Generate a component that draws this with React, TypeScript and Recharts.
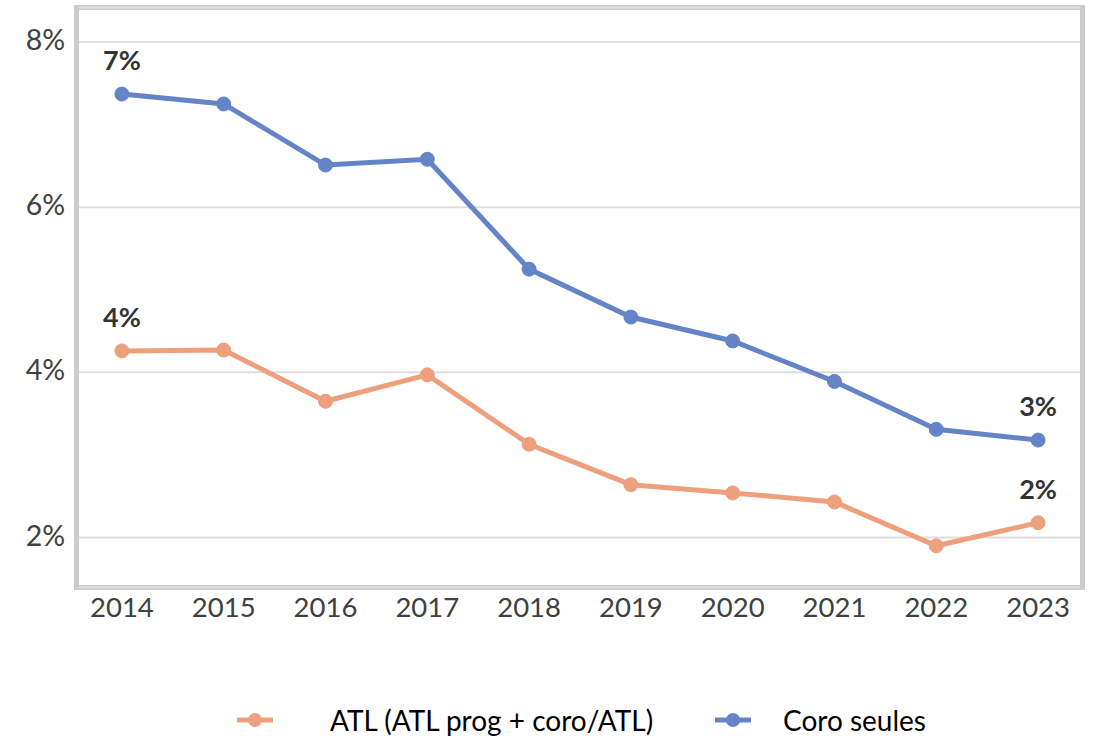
import React from 'react';
import { LineChart, Line, XAxis, YAxis, CartesianGrid, Legend } from 'recharts';

const years = ['2014', '2015', '2016', '2017', '2018', '2019', '2020', '2021', '2022', '2023'];
const atlValues = [4.26, 4.27, 3.65, 3.97, 3.13, 2.64, 2.54, 2.43, 1.9, 2.18];
const coroValues = [7.37, 7.25, 6.51, 6.58, 5.25, 4.67, 4.38, 3.89, 3.31, 3.18];
const yTicks = [2, 4, 6, 8];
const atlName = 'ATL (ATL prog + coro/ATL)';
const coroName = 'Coro seules';

const data = years.map((y, i) => ({ year: y, atl: atlValues[i], coro: coroValues[i] }));

const FONT = 'Lato, "Open Sans", sans-serif';
const ORANGE = '#EEA07C';
const BLUE = '#6584C8';

const makeLabel = (count: number) => (props: any) => {
  const { x, y, value, index } = props;
  if (index !== 0 && index !== count - 1) return null;
  return (
    <text
      x={x}
      y={y - 24}
      textAnchor="middle"
      fill="#333333"
      fontFamily={FONT}
      fontWeight={700}
      fontSize={27}
    >
      {`${Math.round(value)}%`}
    </text>
  );
};

const LegendContent = (props: any) => {
  const payload = props.payload || [];
  const lefts = [237, 715];
  return (
    <div style={{ position: 'relative', width: 1104, height: 36 }}>
      {payload.map((p: any, i: number) => (
        <div
          key={p.value}
          style={{
            position: 'absolute',
            left: lefts[i] ?? 237 + i * 478,
            top: 2,
            height: 36,
            display: 'flex',
            alignItems: 'center',
          }}
        >
          <svg width={36} height={20} style={{ display: 'block' }}>
            <line x1={0} y1={10} x2={36} y2={10} stroke={p.color} strokeWidth={5} />
            <circle cx={18} cy={10} r={7} fill={p.color} />
          </svg>
          <span
            style={{
              marginLeft: i === 0 ? 57 : 32,
              fontFamily: FONT,
              fontSize: 28,
              color: '#000000',
              whiteSpace: 'nowrap',
            }}
          >
            {p.value}
          </span>
        </div>
      ))}
    </div>
  );
};

export default function App() {
  return (
    <div style={{ position: 'relative', width: 1104, height: 736, background: '#ffffff' }}>
      <style>{`body{margin:0;background:#fff}`}</style>
      <div
        style={{
          position: 'absolute',
          left: 74,
          top: 5,
          width: 1011,
          height: 585,
          border: '5px solid #cccccc',
          boxSizing: 'border-box',
        }}
      />
      <LineChart
        width={1104}
        height={736}
        data={data}
        margin={{ top: 7.5, right: 15, bottom: 0, left: 0 }}
      >
        <CartesianGrid vertical={false} stroke="#dedede" strokeWidth={2} x={79} width={1001} />
        <XAxis
          dataKey="year"
          axisLine={false}
          tickLine={false}
          tickSize={0}
          tickMargin={10}
          height={112.5}
          padding={{ left: 50.9, right: 50.9 }}
          tick={{ fill: '#404040', fontSize: 27.5, fontFamily: FONT }}
          interval={0}
        />
        <YAxis
          type="number"
          domain={[1.395, 8.418]}
          ticks={yTicks}
          allowDataOverflow
          axisLine={false}
          tickLine={false}
          tickSize={0}
          tickMargin={6}
          width={71}
          tickFormatter={(v: number) => `${v}%`}
          tick={{ fill: '#404040', fontSize: 28.5, fontFamily: FONT, dy: -2 }}
        />
        <Legend
          verticalAlign="bottom"
          align="left"
          wrapperStyle={{ left: 0, width: 1104, height: 36 }}
          content={<LegendContent />}
        />
        <Line
          type="linear"
          dataKey="atl"
          name={atlName}
          stroke={ORANGE}
          strokeWidth={5}
          dot={{ r: 7, fill: ORANGE, stroke: ORANGE, strokeWidth: 1 }}
          activeDot={false}
          isAnimationActive={false}
          label={makeLabel(years.length)}
        />
        <Line
          type="linear"
          dataKey="coro"
          name={coroName}
          stroke={BLUE}
          strokeWidth={5}
          dot={{ r: 7, fill: BLUE, stroke: BLUE, strokeWidth: 1 }}
          activeDot={false}
          isAnimationActive={false}
          label={makeLabel(years.length)}
        />
      </LineChart>
    </div>
  );
}
